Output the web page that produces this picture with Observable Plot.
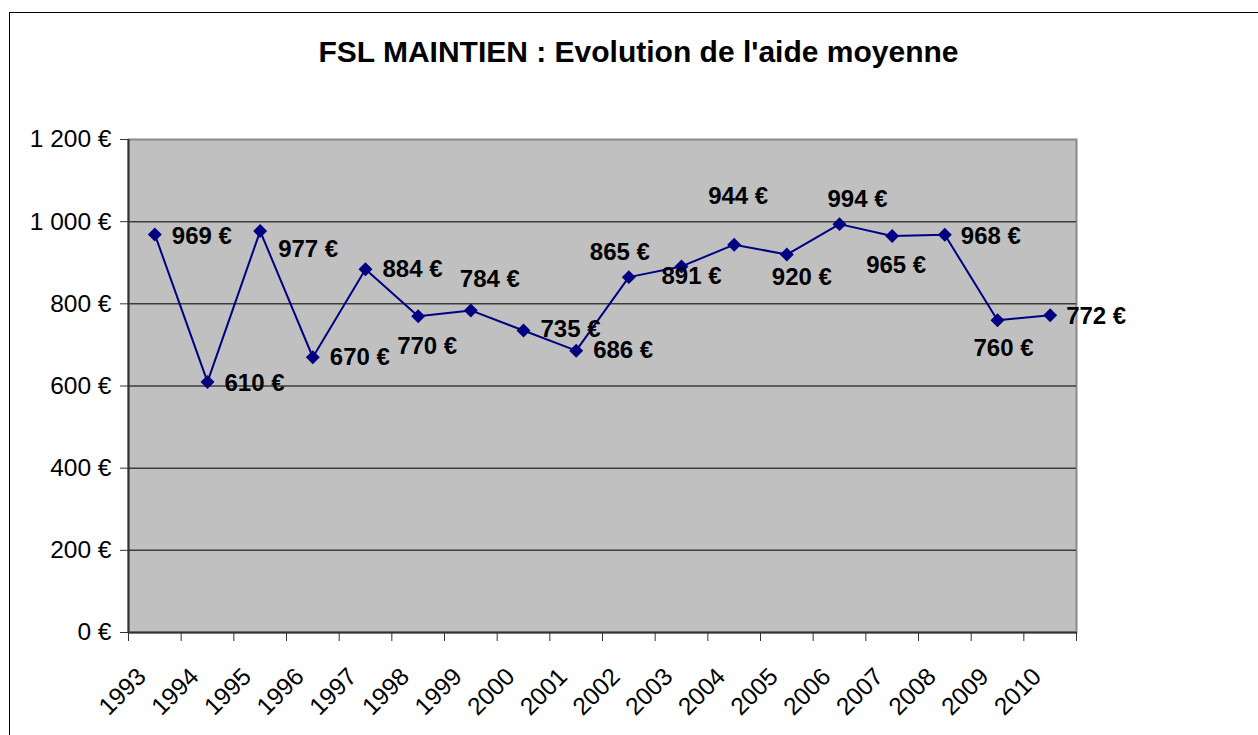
<!DOCTYPE html>
<html>
<head>
<meta charset="utf-8">
<script src="https://cdn.jsdelivr.net/npm/d3@7"></script>
<script src="https://cdn.jsdelivr.net/npm/@observablehq/plot@0.6"></script>
<style>
  html, body { margin: 0; padding: 0; background: #fff; overflow: hidden; }
  #wrap { position: relative; width: 1258px; height: 735px; font-family: "Liberation Sans", Arial, sans-serif; }
  #border { position: absolute; left: 9px; top: 12px; width: 1300px; height: 800px; border: 1px solid #000; pointer-events: none; }
  #title { height: 96px; box-sizing: border-box; padding-top: 34px; text-align: center; width: 1277px;
           font-weight: bold; font-size: 30px; line-height: 36px; color: #000; }
  svg { display: block; }
</style>
</head>
<body>
<div id="wrap">
  <div id="border"></div>
  <div id="title">FSL MAINTIEN : Evolution de l'aide moyenne</div>
  <div id="chart"></div>
</div>
<script>
const years = [1993, 1994, 1995, 1996, 1997, 1998, 1999, 2000, 2001, 2002, 2003, 2004, 2005, 2006, 2007, 2008, 2009, 2010];
const aideMoyenne = [969, 610, 977, 670, 884, 770, 784, 735, 686, 865, 891, 944, 920, 994, 965, 968, 760, 772];
const yTicks = [0, 200, 400, 600, 800, 1000, 1200];
// label offsets (dx, dy) relative to each point, as placed in the original
const labelOffsets = [[47, 2], [47, 1], [48, 18], [47, 0], [47, 0], [9, 30], [19, -31], [47, -1], [47, 0],
                      [-9, -25], [10, 10], [4, -48], [15, 23], [18, -25], [4, 29], [46, 1], [6, 28], [46, 1]];

const data = years.map((y, i) => ({year: y, value: aideMoyenne[i]}));
const fr = d3.formatLocale({decimal: ",", thousands: "\u00a0", grouping: [3], currency: ["", "\u00a0€"]});
const fmtY = d => fr.format(",")(d) + " €";
const boundaries = d3.range(years.length + 1).map(i => years[0] - 0.5 + i);

const FONT = '"Liberation Sans", Arial, sans-serif';
const NAVY = "#000080";

const chart = Plot.plot({
  width: 1258,
  height: 639,
  marginLeft: 128,
  marginRight: 182,
  marginTop: 43,
  marginBottom: 103,
  style: {fontFamily: FONT, fontSize: "24px", color: "#000", background: "transparent", overflow: "visible"},
  x: {type: "linear", domain: [years[0] - 0.5, years[years.length - 1] + 0.5]},
  y: {domain: [0, 1200]},
  marks: [
    Plot.frame({fill: "#c0c0c0", stroke: "#8a8a8a", strokeWidth: 2}),
    Plot.gridY(yTicks.filter(t => t > 0 && t < 1200), {stroke: "#3c3c3c", strokeOpacity: 1, strokeWidth: 1.5}),
    Plot.ruleY([0], {stroke: "#333", strokeWidth: 2}),
    Plot.ruleX([years[0] - 0.5], {stroke: "#333", strokeWidth: 2}),
    Plot.axisY({ticks: yTicks, tickSize: 8, tickPadding: 9, tickFormat: fmtY, fontSize: 24.5, stroke: "#333", label: null}),
    Plot.axisX({ticks: boundaries, tickSize: 9, tickFormat: () => "", stroke: "#333", label: null}),
    Plot.axisX({ticks: years, tickSize: 0, tickPadding: 40, dx: -13, tickRotate: -45, tickFormat: d => String(d), fontSize: 24.5, label: null}),
    Plot.line(data, {x: "year", y: "value", stroke: NAVY, strokeWidth: 2}),
    Plot.dot(data, {x: "year", y: "value", symbol: "diamond2", r: 6.3, fill: NAVY, stroke: "none"}),
    ...data.map((d, i) => Plot.text([d], {
      x: "year", y: "value", text: v => v.value + " €",
      dx: labelOffsets[i][0], dy: labelOffsets[i][1],
      fontSize: 24, fontWeight: "bold", fill: "#000", textAnchor: "middle", lineAnchor: "middle"
    }))
  ]
});
document.getElementById("chart").appendChild(chart);
</script>
</body>
</html>
